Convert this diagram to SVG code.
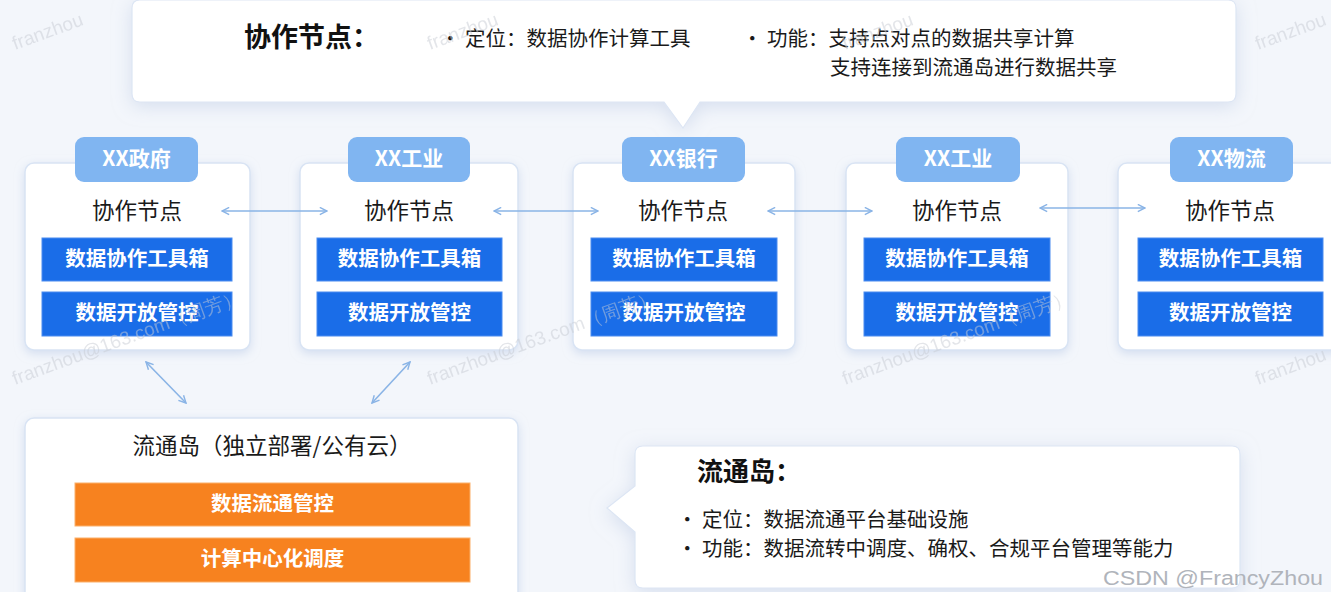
<svg xmlns="http://www.w3.org/2000/svg" width="1331" height="592" viewBox="0 0 1331 592">
<defs>
<filter id="sh" x="-10%" y="-10%" width="120%" height="125%">
<feDropShadow dx="0" dy="3" stdDeviation="5" flood-color="#b9c9e6" flood-opacity="0.55"/>
</filter>
<filter id="sh2" x="-10%" y="-20%" width="120%" height="140%">
<feDropShadow dx="0" dy="4" stdDeviation="9" flood-color="#c3cfe6" flood-opacity="0.6"/>
</filter>
<marker id="ah" viewBox="0 0 10 10" refX="9" refY="5" markerWidth="9" markerHeight="9" markerUnits="userSpaceOnUse" orient="auto-start-reverse">
<path d="M1,1 L9,5 L1,9" fill="none" stroke="#8ab4e6" stroke-width="1.6"/>
</marker>
</defs>
<style>
text{font-family:"Noto Sans CJK SC","Noto Sans",sans-serif;}
.card{fill:#ffffff;stroke:#d9e4f4;stroke-width:1.5;filter:url(#sh);}
.tab{fill:#80b5f1;}
.tabt{fill:#ffffff;font-size:21px;font-weight:700;text-anchor:middle;}
.nt{fill:#1a1a1a;font-size:22.5px;text-anchor:middle;}
.bb{fill:#1a6de8;stroke:#4a8cf0;stroke-width:1;}
.ob{fill:#f7821f;stroke:#fbb06a;stroke-width:1;}
.bt{fill:#ffffff;font-size:20.5px;font-weight:700;text-anchor:middle;}
.h{fill:#111111;font-size:27px;font-weight:700;}
.p{fill:#1a1a1a;font-size:20.5px;}
.c{stroke:#8ab4e6;stroke-width:1.6;fill:none;marker-start:url(#ah);marker-end:url(#ah);}
.wm{fill:#c8ccd4;font-family:"Liberation Sans",sans-serif;font-size:19px;opacity:0.5;}
</style>
<rect x="0" y="0" width="1331" height="592" fill="#f3f6fb"/>

<g id="callout-top">
<path d="M140,0 H1228 Q1236,0 1236,8 V94 Q1236,102 1228,102 H700 L683,128 L664,102 H140 Q132,102 132,94 V8 Q132,0 140,0 Z" fill="#ffffff" stroke="#dde6f4" stroke-width="1.2" filter="url(#sh2)"/>
<text class="h" x="244" y="47">协作节点：</text>
<text class="p" x="440" y="46">•  定位：数据协作计算工具</text>
<text class="p" x="742" y="46">•  功能：支持点对点的数据共享计算</text>
<text class="p" x="830" y="75">支持连接到流通岛进行数据共享</text>
</g>

<g id="node-gov">
<rect class="card" x="25" y="163" width="225" height="187" rx="9"/>
<rect class="tab" x="75" y="137" width="123" height="45" rx="9"/>
<text class="tabt" x="136.5" y="166">XX政府</text>
<text class="nt" x="137" y="219">协作节点</text>
<rect class="bb" x="42" y="238" width="190" height="43"/>
<text class="bt" x="137" y="266">数据协作工具箱</text>
<rect class="bb" x="42" y="292" width="190" height="44"/>
<text class="bt" x="137" y="320">数据开放管控</text>
</g>

<g id="node-ind1">
<rect class="card" x="300" y="163" width="218" height="187" rx="9"/>
<rect class="tab" x="348" y="137" width="122" height="45" rx="9"/>
<text class="tabt" x="409" y="166">XX工业</text>
<text class="nt" x="409" y="219">协作节点</text>
<rect class="bb" x="317" y="238" width="185" height="43"/>
<text class="bt" x="409.5" y="266">数据协作工具箱</text>
<rect class="bb" x="317" y="292" width="185" height="44"/>
<text class="bt" x="409.5" y="320">数据开放管控</text>
</g>

<g id="node-bank">
<rect class="card" x="573" y="163" width="222" height="187" rx="9"/>
<rect class="tab" x="622" y="137" width="123" height="45" rx="9"/>
<text class="tabt" x="683.5" y="166">XX银行</text>
<text class="nt" x="683" y="219">协作节点</text>
<rect class="bb" x="591" y="238" width="186" height="43"/>
<text class="bt" x="684" y="266">数据协作工具箱</text>
<rect class="bb" x="591" y="292" width="186" height="44"/>
<text class="bt" x="684" y="320">数据开放管控</text>
</g>

<g id="node-ind2">
<rect class="card" x="846" y="163" width="222" height="187" rx="9"/>
<rect class="tab" x="896" y="137" width="124" height="45" rx="9"/>
<text class="tabt" x="958" y="166">XX工业</text>
<text class="nt" x="957" y="219">协作节点</text>
<rect class="bb" x="864" y="238" width="186" height="43"/>
<text class="bt" x="957" y="266">数据协作工具箱</text>
<rect class="bb" x="864" y="292" width="186" height="44"/>
<text class="bt" x="957" y="320">数据开放管控</text>
</g>

<g id="node-log">
<rect class="card" x="1118" y="163" width="225" height="187" rx="9"/>
<rect class="tab" x="1170" y="137" width="123" height="45" rx="9"/>
<text class="tabt" x="1231.5" y="166">XX物流</text>
<text class="nt" x="1230" y="219">协作节点</text>
<rect class="bb" x="1138" y="238" width="185" height="43"/>
<text class="bt" x="1230.5" y="266">数据协作工具箱</text>
<rect class="bb" x="1138" y="292" width="185" height="44"/>
<text class="bt" x="1230.5" y="320">数据开放管控</text>
</g>

<g id="node-island">
<rect class="card" x="25" y="418" width="493" height="190" rx="9"/>
<text class="nt" x="272" y="454">流通岛（独立部署/公有云）</text>
<rect class="ob" x="75" y="483" width="395" height="43"/>
<text class="bt" x="272.5" y="511">数据流通管控</text>
<rect class="ob" x="75" y="538" width="395" height="44"/>
<text class="bt" x="272.5" y="566">计算中心化调度</text>
</g>

<g id="callout-island">
<path d="M643,446 H1232 Q1240,446 1240,454 V580 Q1240,588 1232,588 H643 Q635,588 635,580 V532 L607,508 L635,486 V454 Q635,446 643,446 Z" fill="#ffffff" stroke="#dde6f4" stroke-width="1.2" filter="url(#sh2)"/>
<text class="h" x="697" y="481" style="font-size:26px">流通岛：</text>
<text class="p" x="677" y="527">•  定位：数据流通平台基础设施</text>
<text class="p" x="677" y="556">•  功能：数据流转中调度、确权、合规平台管理等能力</text>
</g>

<g id="connectors">
<line class="c" x1="222" y1="211" x2="327" y2="211"/>
<line class="c" x1="494" y1="211" x2="598" y2="211"/>
<line class="c" x1="768" y1="211" x2="872" y2="211"/>
<line class="c" x1="1040" y1="208" x2="1145" y2="208"/>
<line class="c" x1="146" y1="362" x2="186" y2="403"/>
<line class="c" x1="410" y1="362" x2="372" y2="403"/>
</g>

<g id="watermarks">
<text class="wm" x="15" y="50" transform="rotate(-20 15 50)">franzhou</text>
<text class="wm" x="430" y="50" transform="rotate(-20 430 50)">franzhou</text>
<text class="wm" x="845" y="50" transform="rotate(-20 845 50)">franzhou</text>
<text class="wm" x="1258" y="50" transform="rotate(-20 1258 50)">franzhou</text>
<text class="wm" x="15" y="385" transform="rotate(-20 15 385)">franzhou@163.com（周芳）</text>
<text class="wm" x="430" y="385" transform="rotate(-20 430 385)">franzhou@163.com（周芳）</text>
<text class="wm" x="845" y="385" transform="rotate(-20 845 385)">franzhou@163.com（周芳）</text>
<text class="wm" x="1258" y="385" transform="rotate(-20 1258 385)">franzhou</text>
<text x="1103" y="585" textLength="220" lengthAdjust="spacingAndGlyphs" style="fill:#b0b4bb;font-family:'Liberation Sans',sans-serif;font-size:20px">CSDN @FrancyZhou</text>
</g>
</svg>
